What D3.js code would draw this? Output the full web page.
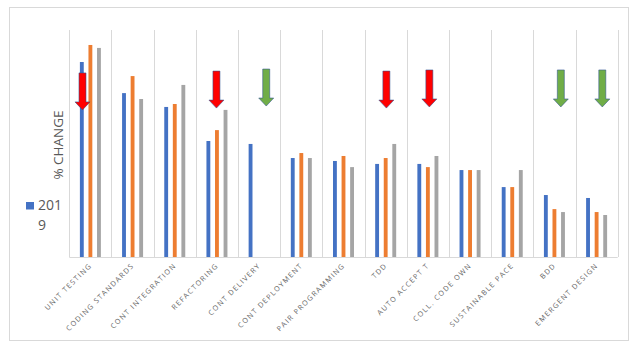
<!DOCTYPE html>
<html>
<head>
<meta charset="utf-8">
<script src="https://cdn.jsdelivr.net/npm/d3@7"></script>
<style>
  html, body { margin: 0; padding: 0; background: #fff; }
  svg { display: block; font-family: "Open Sans", sans-serif; }
</style>
</head>
<body>
<div id="container"></div>
<script>
/* DATA */
const categories = ["UNIT TESTING", "CODING STANDARDS", "CONT INTEGRATION", "REFACTORING",
  "CONT DELIVERY", "CONT DEPLOYMENT", "PAIR PROGRAMMING", "TDD", "AUTO ACCEPT T",
  "COLL. CODE OWN", "SUSTAINABLE PACE", "BDD", "EMERGENT DESIGN"];
const seriesNames = ["2019", "Series 2", "Series 3"];
const series1 = [85.9, 72.2, 66.1, 51.1, 49.8, 43.6, 42.3, 41.0, 41.0, 38.3, 30.8, 27.3, 26.0];
const series2 = [93.4, 79.7, 67.4, 55.9, null, 45.8, 44.5, 43.6, 39.6, 38.3, 30.8, 21.1, 19.8];
const series3 = [92.1, 69.6, 75.8, 64.8, null, 43.6, 39.6, 49.8, 44.5, 38.3, 38.3, 19.8, 18.5];
const legendLines = ["201", "9"];

// arrow call-outs: category, colour, tip level (same units as the bars)
const arrowCats = ["UNIT TESTING", "REFACTORING", "CONT DELIVERY", "TDD", "AUTO ACCEPT T", "BDD", "EMERGENT DESIGN"];
const arrowKinds = ["red", "red", "green", "red", "red", "green", "green"];
const arrowTips = [64.8, 65.6, 66.5, 65.6, 66.1, 66.1, 66.1];

/* CONSTANTS */
const width = 639;
const height = 351;
const plot = { left: 69.3, right: 617.7, top: 30, bottom: 257 };
const colors = ["#4472C4", "#ED7D31", "#A5A5A5"];
const arrowFill = { red: "#FF0000", green: "#70AD47" };
const arrowNudge = [-7.9, -0.5, 7.1, 0.7, 1.5, 6.4, 5.7];

const svg = d3.select("#container")
  .append("svg")
  .attr("width", width)
  .attr("height", height);

// chart border
svg.append("rect")
  .attr("x", 9.5).attr("y", 7.5)
  .attr("width", 619).attr("height", 333)
  .attr("fill", "#fff")
  .attr("stroke", "#D9D9D9");

/* SCALES */
const xScale = d3.scaleBand()
  .domain(categories)
  .range([plot.left, plot.right])
  .padding(0);

const inner = d3.scaleBand()
  .domain(seriesNames)
  .range([xScale.bandwidth() / 2 - 10.5, xScale.bandwidth() / 2 + 10.5])
  .paddingInner(0.55)
  .paddingOuter(0);

const yScale = d3.scaleLinear()
  .domain([0, 100])
  .range([plot.bottom, plot.top]);

/* GRID */
const bounds = categories.map(c => xScale(c)).concat([plot.right]);
svg.append("g")
  .selectAll("line")
  .data(bounds)
  .join("line")
  .attr("x1", d => Math.round(d) + 0.5)
  .attr("x2", d => Math.round(d) + 0.5)
  .attr("y1", plot.top)
  .attr("y2", plot.bottom)
  .attr("stroke", "#D9D9D9");

svg.append("line")
  .attr("x1", plot.left).attr("x2", plot.right)
  .attr("y1", plot.bottom + 0.5).attr("y2", plot.bottom + 0.5)
  .attr("stroke", "#D9D9D9");

/* BARS */
const allSeries = [series1, series2, series3];
const rows = [];
allSeries.forEach((vals, si) => {
  vals.forEach((v, ci) => {
    if (v != null) rows.push({ cat: categories[ci], s: seriesNames[si], si, v });
  });
});

svg.append("g")
  .selectAll("rect")
  .data(rows)
  .join("rect")
  .attr("x", d => xScale(d.cat) + inner(d.s))
  .attr("y", d => yScale(d.v))
  .attr("width", inner.bandwidth())
  .attr("height", d => yScale(0) - yScale(d.v))
  .attr("fill", d => colors[d.si]);

/* ARROWS */
const arrowLen = 37, headLen = 8, shaftHalf = 3.5, headHalf = 7.5;
svg.append("g")
  .selectAll("path")
  .data(arrowCats.map((c, i) => ({ c, kind: arrowKinds[i], tip: arrowTips[i], nudge: arrowNudge[i] })))
  .join("path")
  .attr("d", d => {
    const cx = xScale(d.c) + xScale.bandwidth() / 2 + d.nudge;
    const yb = yScale(d.tip);
    const yt = yb - arrowLen;
    const yh = yb - headLen;
    return `M${cx - shaftHalf},${yt}H${cx + shaftHalf}V${yh}H${cx + headHalf}L${cx},${yb}L${cx - headHalf},${yh}H${cx - shaftHalf}Z`;
  })
  .attr("fill", d => arrowFill[d.kind])
  .attr("stroke", "#2F528F")
  .attr("stroke-opacity", 0.7)
  .attr("stroke-width", 0.8);

/* CATEGORY LABELS */
svg.append("g")
  .selectAll("text")
  .data(categories)
  .join("text")
  .attr("transform", d => `translate(${xScale(d) + xScale.bandwidth() / 2 + 2},${plot.bottom + 9}) rotate(-45)`)
  .attr("text-anchor", "end")
  .attr("font-size", 7.2)
  .attr("letter-spacing", 1.35)
  .attr("fill", "#666")
  .text(d => d);

/* AXIS TITLE */
svg.append("text")
  .attr("transform", "translate(63,145) rotate(-90)")
  .attr("text-anchor", "middle")
  .attr("font-size", 13.5)
  .attr("fill", "#595959")
  .text("% CHANGE");

/* LEGEND */
svg.append("rect")
  .attr("x", 26).attr("y", 202)
  .attr("width", 8).attr("height", 7.5)
  .attr("fill", colors[0]);

svg.append("g")
  .selectAll("text")
  .data(legendLines)
  .join("text")
  .attr("x", 38)
  .attr("y", (d, i) => 209.5 + i * 20)
  .attr("font-size", 14)
  .attr("fill", "#595959")
  .text(d => d);
</script>
</body>
</html>
